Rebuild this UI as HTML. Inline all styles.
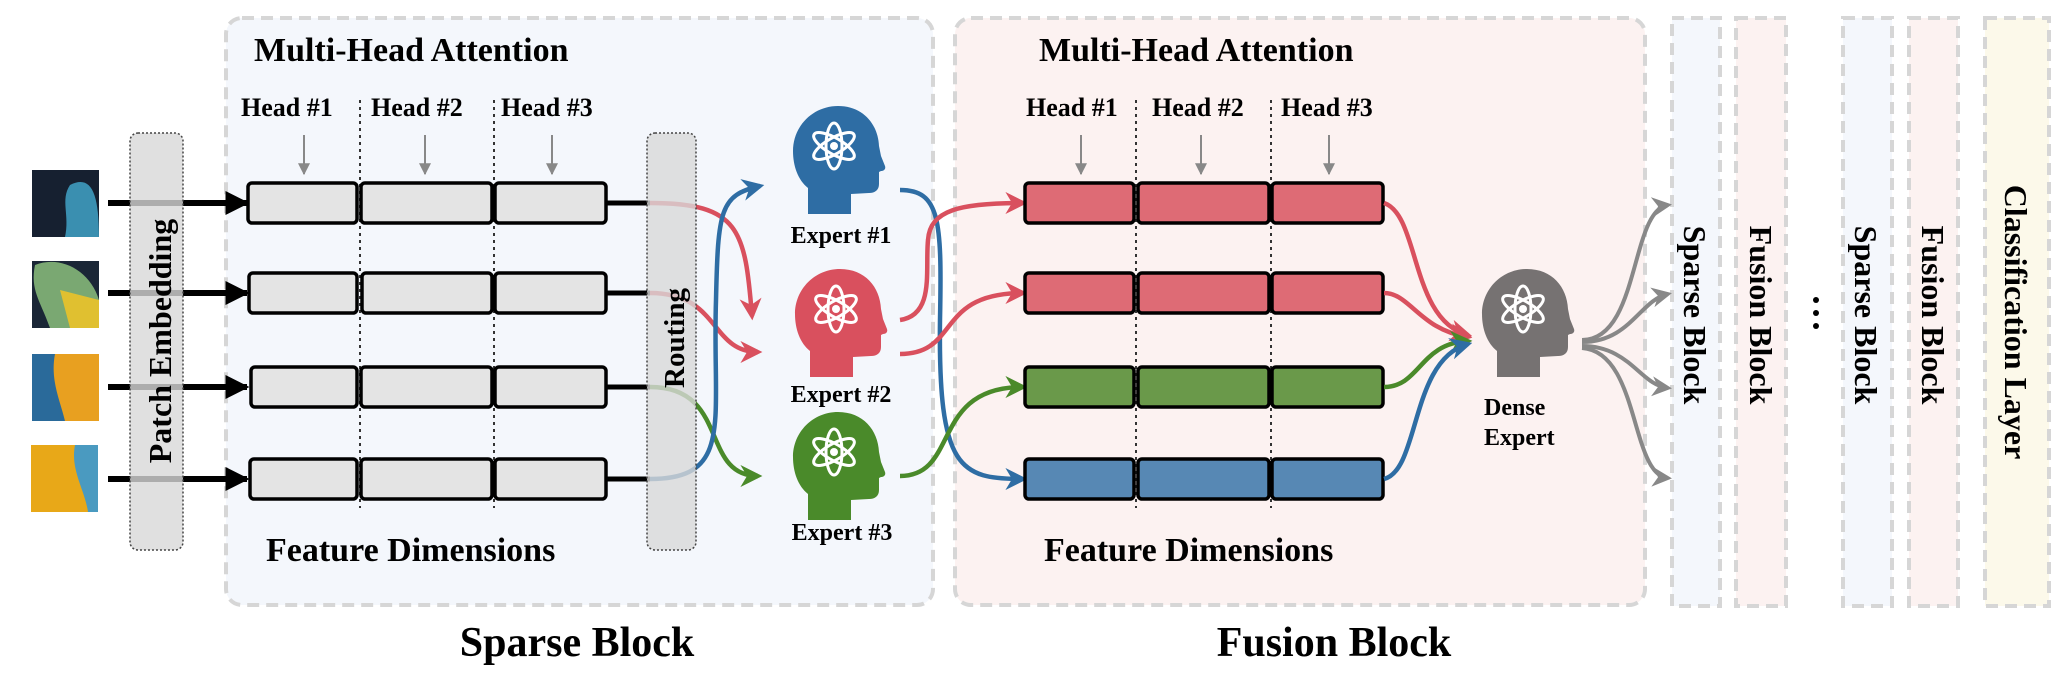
<!DOCTYPE html>
<html><head><meta charset="utf-8"><style>
html,body{margin:0;padding:0;background:#fff;}
svg{display:block;}
text{font-family:"Liberation Serif",serif;font-weight:bold;fill:#000;}
</style></head><body>
<svg width="2072" height="678" viewBox="0 0 2072 678" xmlns="http://www.w3.org/2000/svg">
<defs>
<marker id="ar" viewBox="0 0 10 10" markerWidth="22" markerHeight="22" refX="8" refY="5" orient="auto" markerUnits="userSpaceOnUse"><path d="M0,0 L10,5 L0,10 L3,5 Z" fill="#d9505e"/></marker>
<marker id="ag" viewBox="0 0 10 10" markerWidth="22" markerHeight="22" refX="8" refY="5" orient="auto" markerUnits="userSpaceOnUse"><path d="M0,0 L10,5 L0,10 L3,5 Z" fill="#4a8a2a"/></marker>
<marker id="ab" viewBox="0 0 10 10" markerWidth="22" markerHeight="22" refX="8" refY="5" orient="auto" markerUnits="userSpaceOnUse"><path d="M0,0 L10,5 L0,10 L3,5 Z" fill="#2e6da4"/></marker>
<marker id="ay" viewBox="0 0 10 10" markerWidth="20" markerHeight="20" refX="8" refY="5" orient="auto" markerUnits="userSpaceOnUse"><path d="M0,0 L10,5 L0,10 L3,5 Z" fill="#888"/></marker>
<marker id="ak" viewBox="0 0 10 10" markerWidth="24" markerHeight="24" refX="9" refY="5" orient="auto" markerUnits="userSpaceOnUse"><path d="M0,0 L10,5 L0,10 Z" fill="#000"/></marker>
<marker id="sg" viewBox="0 0 10 10" markerWidth="12" markerHeight="12" refX="9" refY="5" orient="auto" markerUnits="userSpaceOnUse"><path d="M0,0 L10,5 L0,10 Z" fill="#888"/></marker>
<g id="head">
<path d="M15,108 L15,82 C5,74 0,60 0,45 C0,20 20,0 45,0 C70,0 85,18 86,40 L88,50 L92,60 C93,63 91,65 88,65 L86,66 L86,78 C86,84 82,87 76,87 L58,88 L58,108 Z"/>
<g fill="none" stroke="#fff" stroke-width="3" transform="translate(41,40)">
<ellipse rx="23" ry="8" transform="rotate(90)"/>
<ellipse rx="23" ry="8" transform="rotate(30)"/>
<ellipse rx="23" ry="8" transform="rotate(-30)"/>
<circle r="4" fill="#fff" stroke="none"/>
</g>
</g>
</defs>

<rect x="226" y="18" width="707" height="587" rx="16" fill="#f4f7fc" stroke="#d6d6d6" stroke-width="4" stroke-dasharray="12,7"/>
<rect x="955" y="18" width="690" height="587" rx="16" fill="#fcf2f1" stroke="#d6d6d6" stroke-width="4" stroke-dasharray="12,7"/>
<rect x="1672" y="18" width="48" height="588" fill="#f4f7fc" stroke="#d6d6d6" stroke-width="4" stroke-dasharray="12,7"/>
<rect x="1736" y="18" width="50" height="588" fill="#fcf2f1" stroke="#d6d6d6" stroke-width="4" stroke-dasharray="12,7"/>
<rect x="1843" y="18" width="49" height="588" fill="#f4f7fc" stroke="#d6d6d6" stroke-width="4" stroke-dasharray="12,7"/>
<rect x="1909" y="18" width="49" height="588" fill="#fcf2f1" stroke="#d6d6d6" stroke-width="4" stroke-dasharray="12,7"/>
<rect x="1985" y="18" width="64" height="588" fill="#fcf9ea" stroke="#d6d6d6" stroke-width="4" stroke-dasharray="12,7"/>

<text x="254" y="61" font-size="34">Multi-Head Attention</text>
<text x="1039" y="61" font-size="34">Multi-Head Attention</text>
<g font-size="26">
<text x="241" y="116">Head #1</text><text x="371" y="116">Head #2</text><text x="501" y="116">Head #3</text>
<text x="1026" y="116">Head #1</text><text x="1152" y="116">Head #2</text><text x="1281" y="116">Head #3</text>
</g>
<text x="266" y="561" font-size="34">Feature Dimensions</text>
<text x="1044" y="561" font-size="34">Feature Dimensions</text>
<text x="577" y="656" font-size="42" text-anchor="middle">Sparse Block</text>
<text x="1334" y="656" font-size="42" text-anchor="middle">Fusion Block</text>

<g stroke="#333" stroke-width="2" stroke-dasharray="3,4">
<line x1="360" y1="100" x2="360" y2="508"/><line x1="494" y1="100" x2="494" y2="508"/>
<line x1="1136" y1="100" x2="1136" y2="508"/><line x1="1271" y1="100" x2="1271" y2="508"/>
</g>
<g stroke="#888" stroke-width="2" marker-end="url(#sg)">
<line x1="304" y1="135" x2="304" y2="174"/><line x1="425" y1="135" x2="425" y2="174"/><line x1="552" y1="135" x2="552" y2="174"/>
<line x1="1081" y1="135" x2="1081" y2="174"/><line x1="1201" y1="135" x2="1201" y2="174"/><line x1="1329" y1="135" x2="1329" y2="174"/>
</g>

<rect x="32" y="170" width="67" height="67" fill="#162030"/><path d="M70,185 C90,175 99,190 99,237 L65,237 C70,215 60,200 70,185Z" fill="#3a8fb0"/>
<rect x="32" y="261" width="67" height="67" fill="#1a2636"/><path d="M35,265 C60,255 90,270 99,300 L99,328 L50,328 C40,300 30,290 35,265Z" fill="#7aa872"/><path d="M60,290 L99,300 L99,328 L70,328Z" fill="#e0c030"/>
<rect x="32" y="354" width="67" height="67" fill="#2a6a9a"/><path d="M55,354 L99,354 L99,421 L65,421 C60,400 50,380 55,354Z" fill="#e8a020"/>
<rect x="31" y="445" width="67" height="67" fill="#e8a818"/><path d="M75,445 L98,445 L98,512 L88,512 C85,490 70,470 75,445Z" fill="#4a9ac0"/>

<g stroke="#000" stroke-width="6" marker-end="url(#ak)">
<line x1="108" y1="203" x2="247" y2="203"/><line x1="108" y1="293" x2="247" y2="293"/>
<line x1="108" y1="387" x2="247" y2="387"/><line x1="108" y1="479" x2="247" y2="479"/>
</g>

<g fill="#e4e4e4" stroke="#000" stroke-width="3.5">
<rect x="248" y="183" width="109" height="40" rx="4"/><rect x="361" y="183" width="131" height="40" rx="4"/><rect x="495" y="183" width="111" height="40" rx="4"/>
<rect x="249" y="273" width="108" height="40" rx="4"/><rect x="362" y="273" width="130" height="40" rx="4"/><rect x="495" y="273" width="111" height="40" rx="4"/>
<rect x="251" y="367" width="106" height="40" rx="4"/><rect x="361" y="367" width="131" height="40" rx="4"/><rect x="495" y="367" width="111" height="40" rx="4"/>
<rect x="250" y="459" width="107" height="40" rx="4"/><rect x="361" y="459" width="131" height="40" rx="4"/><rect x="495" y="459" width="111" height="40" rx="4"/>
</g>
<g stroke="#000" stroke-width="5">
<line x1="606" y1="203" x2="650" y2="203"/><line x1="606" y1="293" x2="650" y2="293"/>
<line x1="606" y1="387" x2="650" y2="387"/><line x1="606" y1="479" x2="650" y2="479"/>
</g>

<g fill="none" stroke-width="4.5">
<path d="M650,203 C740,203 745,230 752,316" stroke="#d9505e" marker-end="url(#ar)"/>
<path d="M650,293 C720,293 710,352 758,352" stroke="#d9505e" marker-end="url(#ar)"/>
<path d="M650,387 C730,387 700,476 758,476" stroke="#4a8a2a" marker-end="url(#ag)"/>
<path d="M650,479 C735,479 712,420 716,300 C718,210 720,195 760,186" stroke="#2e6da4" marker-end="url(#ab)"/>
<path d="M900,190 C940,190 942,220 940,320 C938,470 960,479 1023,479" stroke="#2e6da4" marker-end="url(#ab)"/>
<path d="M900,320 C935,315 925,270 928,240 C930,210 960,203 1023,203" stroke="#d9505e" marker-end="url(#ar)"/>
<path d="M900,354 C960,354 935,293 1023,293" stroke="#d9505e" marker-end="url(#ar)"/>
<path d="M900,476 C960,476 930,387 1023,387" stroke="#4a8a2a" marker-end="url(#ag)"/>
</g>

<rect x="130" y="133" width="53" height="417" rx="8" fill="#d8d8d8" fill-opacity="0.8" stroke="#444" stroke-width="1.5" stroke-dasharray="2,2"/>
<rect x="647" y="133" width="49" height="417" rx="8" fill="#d8d8d8" fill-opacity="0.8" stroke="#444" stroke-width="1.5" stroke-dasharray="2,2"/>
<text transform="translate(171,341) rotate(-90)" font-size="32" text-anchor="middle">Patch Embedding</text>
<text transform="translate(684,338) rotate(-90)" font-size="29" text-anchor="middle">Routing</text>

<use href="#head" x="793" y="106" fill="#2e6da4"/>
<use href="#head" x="795" y="269" fill="#d9505e"/>
<use href="#head" x="793" y="412" fill="#4a8a2a"/>
<g font-size="24" text-anchor="middle">
<text x="841" y="243">Expert #1</text><text x="841" y="402">Expert #2</text><text x="842" y="540">Expert #3</text>
</g>

<g stroke="#000" stroke-width="3.5">
<g fill="#de6b75">
<rect x="1025" y="183" width="109" height="40" rx="4"/><rect x="1138" y="183" width="131" height="40" rx="4"/><rect x="1272" y="183" width="111" height="40" rx="4"/>
<rect x="1025" y="273" width="109" height="40" rx="4"/><rect x="1138" y="273" width="131" height="40" rx="4"/><rect x="1272" y="273" width="111" height="40" rx="4"/>
</g>
<g fill="#6a994a">
<rect x="1025" y="367" width="109" height="40" rx="4"/><rect x="1138" y="367" width="131" height="40" rx="4"/><rect x="1272" y="367" width="111" height="40" rx="4"/>
</g>
<g fill="#5788b4">
<rect x="1025" y="459" width="109" height="40" rx="4"/><rect x="1138" y="459" width="131" height="40" rx="4"/><rect x="1272" y="459" width="111" height="40" rx="4"/>
</g>
</g>
<g fill="none" stroke-width="4.5">
<path d="M1384,203 C1420,215 1410,320 1468,335" stroke="#d9505e" marker-end="url(#ar)"/>
<path d="M1384,293 C1410,293 1420,330 1468,337" stroke="#d9505e" marker-end="url(#ar)"/>
<path d="M1384,387 C1420,387 1420,343 1468,341" stroke="#4a8a2a" marker-end="url(#ag)"/>
<path d="M1384,479 C1420,470 1410,360 1468,344" stroke="#2e6da4" marker-end="url(#ab)"/>
</g>
<use href="#head" x="1482" y="269" fill="#767272"/>
<text x="1484" y="415" font-size="24">Dense</text>
<text x="1484" y="445" font-size="24">Expert</text>
<g fill="none" stroke="#888" stroke-width="4" marker-end="url(#ay)">
<path d="M1582,340 C1640,340 1630,210 1668,205"/>
<path d="M1582,342 C1630,342 1640,300 1668,294"/>
<path d="M1582,346 C1630,346 1640,385 1668,388"/>
<path d="M1582,348 C1640,352 1630,475 1668,478"/>
</g>

<g font-size="32">
<text transform="translate(1684,315) rotate(90)" text-anchor="middle">Sparse Block</text>
<text transform="translate(1750,315) rotate(90)" text-anchor="middle">Fusion Block</text>
<text transform="translate(1855,315) rotate(90)" text-anchor="middle">Sparse Block</text>
<text transform="translate(1922,315) rotate(90)" text-anchor="middle">Fusion Block</text>
<text transform="translate(2005,322) rotate(90)" text-anchor="middle">Classification Layer</text>
</g>
<g fill="#000"><circle cx="1816" cy="300" r="3"/><circle cx="1816" cy="313" r="3"/><circle cx="1816" cy="326" r="3"/></g>
</svg>
</body></html>
